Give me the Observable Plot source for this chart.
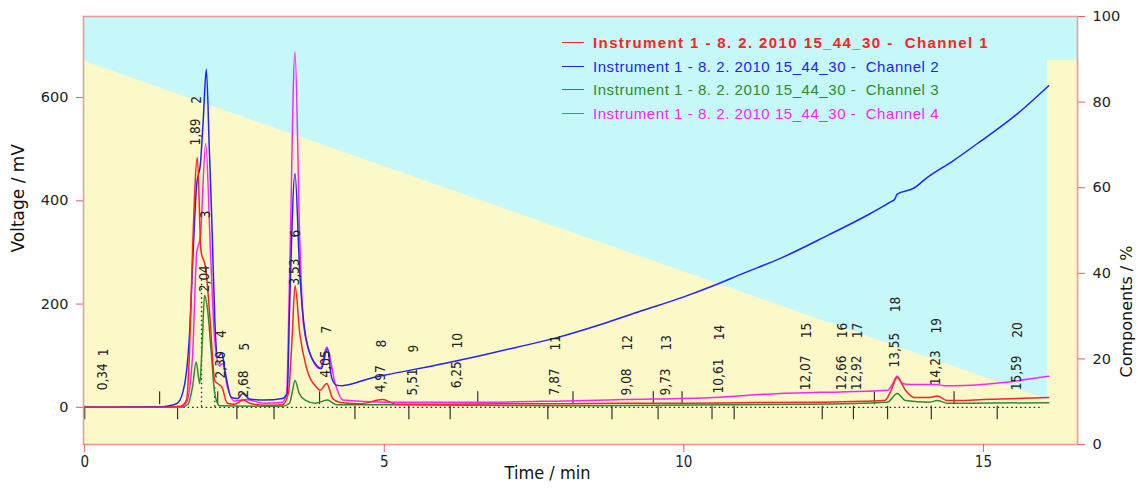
<!DOCTYPE html>
<html><head><meta charset="utf-8">
<script src="https://cdn.jsdelivr.net/npm/d3@7"></script>
<script src="https://cdn.jsdelivr.net/npm/@observablehq/plot@0.6"></script>
<style>
body{margin:0;background:#fff;}
#wrap{position:relative;width:1138px;height:488px;overflow:hidden;}
#legend{position:absolute;left:562px;top:31px;font-family:"Liberation Sans",Arial,sans-serif;font-size:15px;}
.row{height:23.5px;display:flex;align-items:center;white-space:pre;}
.sw{display:inline-block;width:22px;height:0;border-top:1.5px solid;margin-right:9px;}
</style></head><body><div id="wrap"></div>
<script>
// ---- data ----
const time1 = [0,1.3,1.6,1.7,1.75,1.8,1.88,1.94,2.02,2.09,2.17,2.22,2.29,2.38,2.5,2.65,2.75,3.0,3.3,3.4,3.46,3.51,3.59,3.7,3.87,3.93,4.04,4.14,4.25,4.6,4.97,5.2,6,7,8,9,10,11,12.3,13.35,13.45,13.56,13.7,13.85,14.1,14.23,14.4,14.6,15,16.09];
const volt1 = [0,0,2,14,110,304,484,304,269,174,52,46,39,8,6,14,8,4,5,27,130,236,143,77,39,33,46,17,10,7,15,6,6,7,7,8,8,9,10,13,30,58,33,19,19,22,13,13,15,19];

const time2 = [0,1.3,1.45,1.55,1.67,1.75,1.81,1.87,1.93,1.98,2.03,2.08,2.12,2.17,2.22,2.29,2.34,2.45,2.55,2.64,2.75,3.0,3.3,3.38,3.42,3.51,3.59,3.7,3.87,3.95,4.05,4.12,4.2,4.3,4.76,5.0,6.0,6.6,7.2,7.88,8.6,9.27,10.0,10.5,11.0,11.6,12.4,13.06,13.45,13.52,13.56,13.83,14.06,14.5,14.9,15.57,16.09];
const volt2 = [0,1,4,8,46,143,300,433,470,560,655,500,368,174,97,105,72,19,17,27,16,14,17,27,194,453,259,130,81,75,114,58,43,42,56,62,85,100,116,135,160,186,214,236,260,288,333,372,398,403,413,424,445,478,511,569,623];

const time3 = [0,1.6,1.72,1.8,1.86,1.92,1.96,2.0,2.05,2.11,2.17,2.25,3.3,3.42,3.46,3.51,3.58,3.68,3.85,4.05,4.2,5,8,12,13.4,13.56,13.7,14.1,14.23,14.4,16.09];
const volt3 = [0,0,5,40,88,46,120,217,190,110,27,3,2,8,27,52,27,14,8,14,5,5,3,6,10,27,13,10,13,8,9];

const time4 = [0,1.6,1.7,1.8,1.87,1.93,2.02,2.1,2.17,2.25,2.3,2.38,2.5,2.68,3.0,3.3,3.37,3.42,3.51,3.59,3.65,3.81,3.93,4.04,4.18,4.31,5,6.6,7.85,9,10.5,11.6,12.28,13.4,13.48,13.56,13.65,13.78,14.23,14.35,14.5,16.09];
const volt4 = [0,0,10,100,300,330,511,300,130,80,85,40,12,15,8,10,27,259,688,323,162,91,75,117,46,14,10,10,12,15,19,27,29,33,45,60,46,44,44,42,42,60];

// gradient profile (Components / %)
const gradTime = [0,16.07,16.07,16.6];
const gradPct = [89.5,10.5,89.7,89.7];

// peaks
const peakNo = [1,2,3,4,5,6,7,8,9,10,11,12,13,14,15,16,17,18,19,20];
const peakTime = [0.34,1.89,2.04,2.30,2.68,3.53,4.05,4.97,5.51,6.25,7.87,9.08,9.73,10.61,12.07,12.66,12.92,13.55,14.23,15.59];
const timeLabelLevel = [33,507,223,56,19,236,58,29,23,37,23,23,23,27,33,33,33,77,43,33];
const numLabelLevel = [99,588,366,135,110,329,143,116,106,114,110,110,110,130,134,134,134,184,143,135];

// integration markers
const markDownTime = [0,1.55,2.54,3.16,4.51,5.41,6.10,7.73,8.80,9.57,10.47,10.84,12.31,12.83,13.40,14.13,15.23];
const markUpTime = [1.25,2.22,3.92,6.56,8.15,9.49,9.97,13.18,14.51];

// dotted drop lines
const dropTime = [1.95,2.17];
const dropTop = [250,40];

const yTicks = [0,200,400,600];
const pctTicks = [0,20,40,60,80,100];
const xTicks = [0,5,10,15];

const legendLabels = [
  "Instrument 1 - 8. 2. 2010 15_44_30 -  Channel 1",
  "Instrument 1 - 8. 2. 2010 15_44_30 -  Channel 2",
  "Instrument 1 - 8. 2. 2010 15_44_30 -  Channel 3",
  "Instrument 1 - 8. 2. 2010 15_44_30 -  Channel 4"
];

// ---- styles ----
const RED = "#ff2222", BLUE = "#2222ff", GREEN = "#2e8a2e", MAG = "#ff22ff";
const colors = [RED, BLUE, GREEN, MAG];
const CYAN = "#c6f8f9", YELLOW = "#fcf9c9", FRAME = "#f29a9a", TICK = "#f05a5a";

const yDom = [-72, 757];
const xDom = [-0.02, 16.57];
const pctToV = d3.scaleLinear([0,100], yDom);

const rows = (T, V) => T.map((t,i) => ({t, v: V[i]}));
const grad = gradTime.map((t,i) => ({t, v: pctToV(gradPct[i])}));
const peaks = peakNo.map((n,i) => ({
  n: String(n), t: peakTime[i],
  label: peakTime[i].toFixed(2).replace(".", ","),
  tl: timeLabelLevel[i], nl: numLabelLevel[i]
}));
const marks = [
  ...markDownTime.map(t => ({t, v1: 2, v2: -24})),
  ...markUpTime.map(t => ({t, v1: 5, v2: 30}))
];
const drops = dropTime.map((t,i) => ({t, v1: 0, v2: dropTop[i]}));

const lineOpts = (c) => ({x:"t", y:"v", stroke:c, strokeWidth:1.5, curve:"monotone-x"});

const chart = Plot.plot({
  width:1138, height:488,
  marginLeft:83, marginRight:61, marginTop:16, marginBottom:44,
  x:{domain:xDom}, y:{domain:yDom},
  style:{fontFamily:"DejaVu Sans", background:"transparent"},
  marks:[
    Plot.frame({fill:CYAN, stroke:null}),
    Plot.areaY(grad, {x:"t", y1:yDom[0], y2:"v", fill:YELLOW, curve:"linear"}),
    Plot.ruleY([0], {x1:0.3, x2:16.0, stroke:"#222", strokeWidth:1.3, strokeDasharray:"1.5,3"}),
    Plot.ruleX(drops, {x:"t", y1:"v1", y2:"v2", stroke:"#222", strokeWidth:1.3, strokeDasharray:"1.5,3"}),
    Plot.ruleX(marks, {x:"t", y1:"v1", y2:"v2", stroke:"#333", strokeWidth:1.2}),
    Plot.line(rows(time3, volt3), lineOpts(GREEN)),
    Plot.line(rows(time4, volt4), lineOpts(MAG)),
    Plot.line(rows(time2, volt2), lineOpts(BLUE)),
    Plot.line(rows(time1, volt1), lineOpts(RED)),
    Plot.text(peaks, {x:"t", y:"tl", text:"label", rotate:-90, textAnchor:"start", lineAnchor:"middle", dx:-2, fontFamily:"DejaVu Sans Condensed", fontSize:13.5, fill:"#222"}),
    Plot.text(peaks, {x:"t", y:"nl", text:"n", rotate:-90, textAnchor:"start", lineAnchor:"middle", dx:-1, fontFamily:"DejaVu Sans Condensed", fontSize:13.5, fill:"#222"}),
    Plot.frame({stroke:FRAME, strokeWidth:1.6}),
    Plot.axisY(yTicks, {anchor:"left", tickSize:7, tickPadding:8, stroke:TICK, color:"#222", fontSize:14.5, label:null}),
    Plot.axisY(pctTicks.map(p => pctToV(p)), {anchor:"right", tickSize:7, tickPadding:8, stroke:TICK, color:"#222", fontSize:14.5, label:null, tickFormat:(v) => String(Math.round(pctToV.invert(v)))}),
    Plot.axisX(xTicks, {anchor:"bottom", tickSize:8, tickPadding:4, stroke:TICK, color:"#222", fontSize:15, fontFamily:"DejaVu Sans Condensed", label:null}),
    Plot.text(["Voltage / mV"], {frameAnchor:"left", dx:-65, dy:22, rotate:-90, fontSize:17, fill:"#111"}),
    Plot.text(["Components / %"], {frameAnchor:"right", dx:49, dy:15, rotate:-90, fontSize:16, fill:"#111"}),
    Plot.text(["Time / min"], {frameAnchor:"bottom", dx:-33, dy:34, fontSize:18, fontFamily:"DejaVu Sans Condensed", fill:"#111"})
  ]
});

const wrap = document.getElementById("wrap");
wrap.appendChild(chart);
const leg = document.createElement("div");
leg.id = "legend";
legendLabels.forEach((s,i) => {
  const r = document.createElement("div");
  r.className = "row";
  r.style.color = colors[i];
  if (i === 0) { r.style.fontWeight = "bold"; r.style.letterSpacing = "1.4px"; }
  else { r.style.letterSpacing = "0.55px"; }
  const sw = document.createElement("span");
  sw.className = "sw";
  sw.style.borderColor = colors[i];
  r.appendChild(sw);
  r.appendChild(document.createTextNode(s));
  leg.appendChild(r);
});
wrap.appendChild(leg);
</script>
</body></html>
